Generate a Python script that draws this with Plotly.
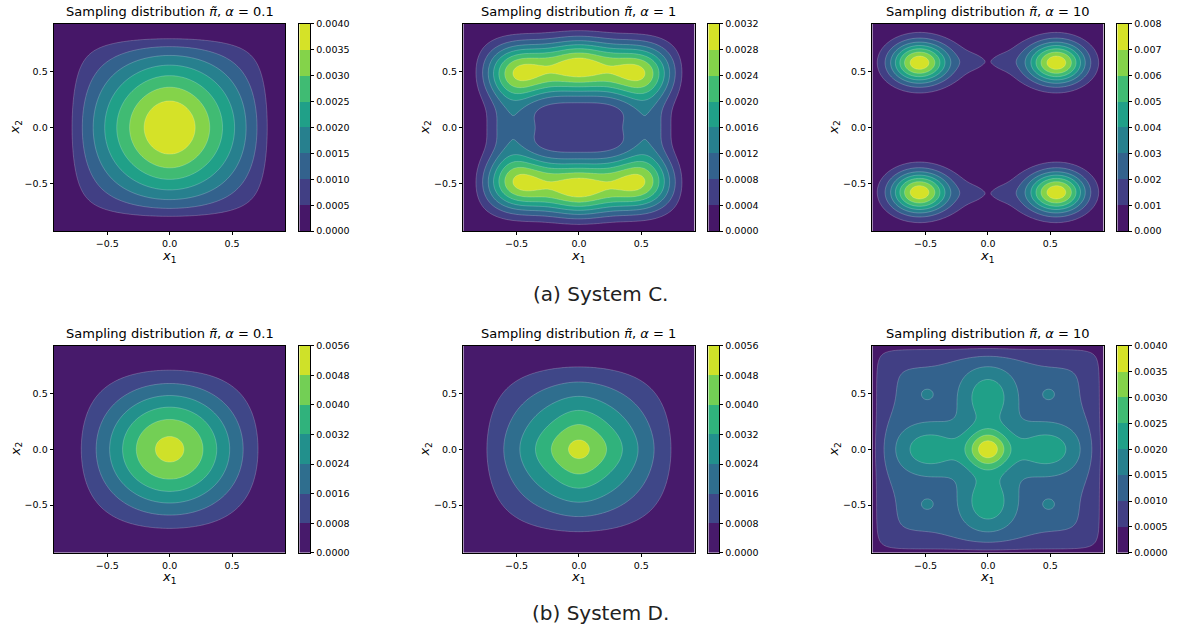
import numpy as np
import plotly.graph_objects as go
from plotly.colors import sample_colorscale

FIG_W, FIG_H = 1177, 639
FONT = "DejaVu Sans"
AX_LIM = 0.927
grid = np.linspace(-AX_LIM, AX_LIM, 161)

TICKS = [-0.5, 0.0, 0.5]
TICK_TEXT = ["\u22120.5", "0.0", "0.5"]
ALPHAS = ["0.1", "1", "10"]
CAPTIONS = ["(a) System C.", "(b) System D."]

# contour levels shown on each colour bar
levels_c_a01 = [0.0000, 0.0005, 0.0010, 0.0015, 0.0020, 0.0025, 0.0030, 0.0035, 0.0040]
levels_c_a1 = [0.0000, 0.0004, 0.0008, 0.0012, 0.0016, 0.0020, 0.0024, 0.0028, 0.0032]
levels_c_a10 = [0.000, 0.001, 0.002, 0.003, 0.004, 0.005, 0.006, 0.007, 0.008]
levels_d_a01 = [0.0000, 0.0008, 0.0016, 0.0024, 0.0032, 0.0040, 0.0048, 0.0056]
levels_d_a1 = [0.0000, 0.0008, 0.0016, 0.0024, 0.0032, 0.0040, 0.0048, 0.0056]
levels_d_a10 = [0.0000, 0.0005, 0.0010, 0.0015, 0.0020, 0.0025, 0.0030, 0.0035, 0.0040]

# Gaussian modes of each sampling density (amplitude, centre, widths)
# and the confining envelope (edge position, steepness) along x1 and x2.
c_a01_amp = [0.00376, 0.00018]
c_a01_cx = [0.0, 0.0]
c_a01_cy = [0.0, 0.0]
c_a01_sx = [0.47, 0.16]
c_a01_sy = [0.50, 0.35]
c_a01_env = [(0.86, 8), (0.86, 8)]

c_a1_amp = [0.00266, 0.00266, 0.00266, 0.00266, 0.00255, 0.00255, 0.0006, 0.00083, 0.00083]
c_a1_cx = [-0.46, 0.46, -0.46, 0.46, 0.0, 0.0, 0.0, -0.55, 0.55]
c_a1_cy = [0.50, 0.50, -0.50, -0.50, 0.55, -0.55, 0.0, 0.0, 0.0]
c_a1_sx = [0.22, 0.22, 0.22, 0.22, 0.20, 0.20, 0.40, 0.13, 0.13]
c_a1_sy = [0.185, 0.185, 0.185, 0.185, 0.185, 0.185, 0.11, 0.30, 0.30]
c_a1_env = [(0.90, 10), (0.95, 10)]

c_a10_amp = [0.0074, 0.0074, 0.0074, 0.0074,
             0.0008, 0.0008, 0.0008, 0.0008,
             0.0005, 0.0005, 0.0005, 0.0005]
c_a10_cx = [-0.557, 0.557, -0.557, 0.557,
            -0.28, 0.28, -0.28, 0.28,
            -0.12, 0.12, -0.12, 0.12]
c_a10_cy = [0.58, 0.58, -0.58, -0.58,
            0.59, 0.59, -0.59, -0.59,
            0.59, 0.59, -0.59, -0.59]
c_a10_sx = [0.165] * 4 + [0.20] * 4 + [0.08] * 4
c_a10_sy = [0.134] * 4 + [0.14] * 4 + [0.06] * 4
c_a10_env = [(1.5, 10), (1.5, 10)]

d_a01_amp = [0.0050]
d_a01_cx = [0.0]
d_a01_cy = [0.0]
d_a01_sx = [0.40]
d_a01_sy = [0.40]
d_a01_env = [(0.85, 8), (0.85, 8)]

d_a1_amp = [0.0040, 0.0005, 0.0005]
d_a1_cx = [0.0, 0.0, 0.0]
d_a1_cy = [0.0, 0.0, 0.0]
d_a1_sx = [0.45, 0.28, 0.12]
d_a1_sy = [0.45, 0.12, 0.28]
d_a1_env = [(0.88, 8), (0.88, 8)]

d_a10_amp = [0.00108, 0.00236, 0.00124, 0.00124, 0.00124, 0.00124, 0.0005, 0.0005, 0.0005, 0.0005]
d_a10_cx = [0.0, 0.0, -0.47, 0.47, 0.0, 0.0, -0.49, 0.49, -0.49, 0.49]
d_a10_cy = [0.0, 0.0, 0.0, 0.0, -0.47, 0.47, 0.495, 0.495, -0.495, -0.495]
d_a10_sx = [50.0, 0.1255, 0.212, 0.212, 0.165, 0.165, 0.067, 0.067, 0.067, 0.067]
d_a10_sy = [50.0, 0.1255, 0.165, 0.165, 0.212, 0.212, 0.067, 0.067, 0.067, 0.067]
d_a10_env = [(0.95, 10), (0.95, 10)]

panels = [
    dict(levels=levels_c_a01, dec=4, amp=c_a01_amp, cx=c_a01_cx, cy=c_a01_cy, sx=c_a01_sx, sy=c_a01_sy, env=c_a01_env),
    dict(levels=levels_c_a1, dec=4, amp=c_a1_amp, cx=c_a1_cx, cy=c_a1_cy, sx=c_a1_sx, sy=c_a1_sy, env=c_a1_env),
    dict(levels=levels_c_a10, dec=3, amp=c_a10_amp, cx=c_a10_cx, cy=c_a10_cy, sx=c_a10_sx, sy=c_a10_sy, env=c_a10_env),
    dict(levels=levels_d_a01, dec=4, amp=d_a01_amp, cx=d_a01_cx, cy=d_a01_cy, sx=d_a01_sx, sy=d_a01_sy, env=d_a01_env),
    dict(levels=levels_d_a1, dec=4, amp=d_a1_amp, cx=d_a1_cx, cy=d_a1_cy, sx=d_a1_sx, sy=d_a1_sy, env=d_a1_env),
    dict(levels=levels_d_a10, dec=4, amp=d_a10_amp, cx=d_a10_cx, cy=d_a10_cy, sx=d_a10_sx, sy=d_a10_sy, env=d_a10_env),
]

# pixel geometry of the panels
PLOT_X0 = [54.0, 463.3, 872.3]
PLOT_W = 231.3
CB_X0 = [299.3, 708.3, 1117.3]
CB_W = 10.7
ROW_TOP = [18.3, 345.7]
ROW_H = 210.7
CAPTION_Y = [293.0, 618.0]


def density(p):
    X, Y = np.meshgrid(grid, grid)
    Z = np.zeros_like(X)
    for a, x0, y0, s1, s2 in zip(p["amp"], p["cx"], p["cy"], p["sx"], p["sy"]):
        Z += a * np.exp(-0.5 * (((X - x0) / s1) ** 2 + ((Y - y0) / s2) ** 2))
    (lx, qx), (ly, qy) = p["env"]
    Z *= np.clip(1 - (np.abs(X) / lx) ** qx, 0, None)
    Z *= np.clip(1 - (np.abs(Y) / ly) ** qy, 0, None)
    return Z


def suffix(n):
    return "" if n == 1 else str(n)


def fx(px):
    return px / FIG_W


def fy(py):
    return 1 - py / FIG_H


def ital(s, size=13):
    return f'<span style="font-style:italic;font-size:{size}px">{s}</span>'


fig = go.Figure()
layout = dict(
    width=FIG_W, height=FIG_H,
    margin=dict(l=0, r=0, t=0, b=0),
    paper_bgcolor="white", plot_bgcolor="white",
    showlegend=False, annotations=[],
)

frame = dict(showline=True, linecolor="black", linewidth=0.8, mirror=True,
             showgrid=False, zeroline=False)
tickstyle = dict(ticks="outside", ticklen=3.5, tickwidth=0.8, tickcolor="black",
                 tickfont=dict(family=FONT, size=9.5, color="black"))

for k, p in enumerate(panels):
    r, c = divmod(k, 3)
    lev = p["levels"]
    nb = len(lev) - 1
    step = lev[1] - lev[0]
    cols = sample_colorscale("Viridis", [(j + 0.5) / nb for j in range(nb)])
    cscale = [[j / (nb - 1), cols[j]] for j in range(nb)]

    npl, ncb = 2 * k + 1, 2 * k + 2
    x0, top = PLOT_X0[c], ROW_TOP[r]
    ydom = [fy(top + ROW_H), fy(top)]

    fig.add_trace(go.Contour(
        x=grid, y=grid, z=density(p),
        xaxis="x" + suffix(npl), yaxis="y" + suffix(npl),
        autocontour=False,
        contours=dict(start=lev[1], end=lev[-2], size=step, coloring="fill", showlines=True),
        line=dict(color="rgba(255,255,255,0.35)", width=0.6, smoothing=0.9),
        colorscale=cscale, showscale=False, hoverinfo="skip",
    ))
    fig.add_trace(go.Heatmap(
        x=[0, 1], y=lev, z=[[j] for j in range(nb)], zmin=0, zmax=nb - 1,
        colorscale=cscale, showscale=False, hoverinfo="skip",
        xaxis="x" + suffix(ncb), yaxis="y" + suffix(ncb),
    ))

    layout["xaxis" + suffix(npl)] = dict(
        domain=[fx(x0), fx(x0 + PLOT_W)], range=[-AX_LIM, AX_LIM], anchor="y" + suffix(npl),
        tickvals=TICKS, ticktext=TICK_TEXT, **frame, **tickstyle)
    layout["yaxis" + suffix(npl)] = dict(
        domain=ydom, range=[-AX_LIM, AX_LIM], anchor="x" + suffix(npl),
        tickvals=TICKS, ticktext=TICK_TEXT, **frame, **tickstyle)
    layout["xaxis" + suffix(ncb)] = dict(
        domain=[fx(CB_X0[c]), fx(CB_X0[c] + CB_W)], range=[0, 1], anchor="y" + suffix(ncb),
        showticklabels=False, ticks="", **frame)
    layout["yaxis" + suffix(ncb)] = dict(
        domain=ydom, range=[lev[0], lev[-1]], anchor="x" + suffix(ncb), side="right",
        tickvals=lev, ticktext=[f"{v:.{p['dec']}f}" for v in lev], **frame, **tickstyle)

    cxp = x0 + PLOT_W / 2
    layout["annotations"] += [
        dict(text=f"Sampling distribution {ital(chr(0x3c0) + chr(0x303))}, {ital(chr(0x3b1))} = {ALPHAS[c]}",
             x=fx(cxp), y=fy(top - 3), xref="paper", yref="paper",
             xanchor="center", yanchor="bottom", showarrow=False,
             font=dict(family=FONT, size=13, color="black")),
        dict(text=ital("x") + "<sub>1</sub>", x=fx(cxp), y=fy(top + ROW_H + 25.5),
             xref="paper", yref="paper", xanchor="center", yanchor="middle",
             showarrow=False, font=dict(family=FONT, size=13, color="black")),
        dict(text=ital("x") + "<sub>2</sub>", x=fx(x0 - 38), y=fy(top + ROW_H / 2),
             xref="paper", yref="paper", xanchor="center", yanchor="middle",
             textangle=-90, showarrow=False, font=dict(family=FONT, size=13, color="black")),
    ]

for r in range(2):
    layout["annotations"].append(dict(
        text=CAPTIONS[r], x=fx(600.5), y=fy(CAPTION_Y[r]), xref="paper", yref="paper",
        xanchor="center", yanchor="middle", showarrow=False,
        font=dict(family=FONT, size=20, color="#222222")))

fig.update_layout(**layout)
fig.write_html("out.html")
